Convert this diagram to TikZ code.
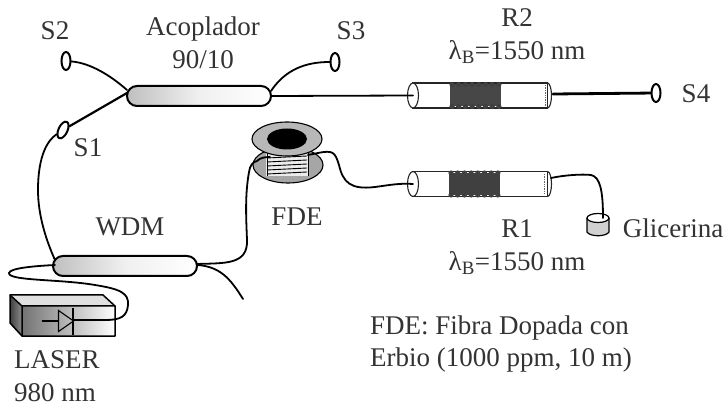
\documentclass[tikz,border=0pt]{standalone}
\usepackage{fontspec}
\setmainfont{Liberation Serif}
\usetikzlibrary{shapes.geometric,shapes.misc}
\tikzset{
 lbl/.style={inner sep=0pt,text=black!80,font=\fontsize{27}{32.5}\selectfont,align=center},
 fibre/.style={draw=black,line width=1.8pt,line cap=round},
 fibrethick/.style={draw=black,line width=2.8pt,line cap=round},
 ferrule/.style={ellipse,draw=black,line width=2pt,fill=white,minimum width=9pt,minimum height=18pt,inner sep=0pt},
 coupler/.style={rounded rectangle,draw=black,line width=2pt,left color=black!25,right color=white,middle color=black!6,minimum width=144pt,minimum height=20pt,inner sep=0pt},
 tube/.style={rectangle,draw=black!85,line width=1.1pt,fill=white,minimum width=135pt,minimum height=25pt,inner sep=0pt},
 grating/.style={rectangle,fill=black!72,minimum height=22pt,minimum width=51pt,inner sep=0pt},
 bump/.style={fill=black!75},
 tubeend/.style={ellipse,draw=black!85,line width=1.1pt,fill=white,minimum width=11pt,minimum height=25pt,inner sep=0pt},
 flange/.style={ellipse,draw=black,line width=1.1pt,fill=black!35,inner sep=0pt},
 boxedge/.style={draw=black,line width=1.5pt,line join=round},
}
\begin{document}
\begin{tikzpicture}[x=1pt,y=-1pt]
\useasboundingbox (0,0) rectangle (726,406);
\fill[white] (0,0) rectangle (726,406);

% couplers
\node[coupler] (acop) at (199,96) {};
\node[coupler] (wdm) at (125,266) {};

% reflectors
\node[tube] (r2) at (480,95.5) {};
\node[tubeend] (r2l) at (413,95.5) {};
\node[grating] (g2) at (475.5,95.5) {};
\foreach \i in {0,...,7} {
  \fill[bump] (452+\i*6.7,84.5) circle (2.6pt);
  \fill[bump] (452+\i*6.7,106.5) circle (2.6pt);
}
\draw[black!60,densely dotted,line width=.7pt] (545,85) -- (545,106);
\node[tube] (r1) at (480,184) {};
\node[tubeend] (r1l) at (413,184) {};
\node[grating,fill=black!75] (g1) at (474.5,184) {};
\foreach \i in {0,...,7} {
  \fill[bump] (451+\i*6.7,173) circle (2.6pt);
  \fill[bump] (451+\i*6.7,195) circle (2.6pt);
}
\draw[black!60,densely dotted,line width=.7pt] (544,174) -- (544,194);
\draw[black!85,line width=1.1pt] (547.5,83) arc (90:-90:4pt and 12.5pt);
\draw[black!85,line width=1.1pt] (547.5,171.5) arc (90:-90:4pt and 12.5pt);

% ferrules
\node[ferrule] (s2) at (66,61) {};
\node[ferrule] (s3) at (335,62) {};
\node[ferrule,rotate=-25] (s1) at (63,130) {};
\node[ferrule] (s4) at (656,93) {};

% spool
\node[flange,minimum width=70pt,minimum height=36pt] (fl2) at (288,165) {};
\fill[black!8] (266,150) rectangle (308,176);
\draw[black,line width=.9pt] (267,150) -- (267,176) (308,150) -- (308,176);
\draw[black,line width=.9pt] (267,158) -- (307,156) (267,162) -- (307,160) (267,166) -- (307,164) (267,170) -- (307,168) (267,174) -- (307,172);
\node[flange,minimum width=70pt,minimum height=34pt,fill=black!28] (fl1) at (287,139) {};
\node[ellipse,fill=black,minimum width=40pt,minimum height=21pt,inner sep=0pt] (hole) at (287,139) {};
\coordinate (spoolL) at (257,161);
\coordinate (spoolM) at (270,157);
\coordinate (spoolR) at (308,155);

% laser box
\fill[black!12] (10,295) -- (103,295) -- (115,306) -- (22,306) -- cycle;
\path[left color=black!75,right color=black!45] (10,295) -- (22,306) -- (22,336) -- (10,323) -- cycle;
\path[left color=black!55,right color=white] (22,306) rectangle (115,336);
\draw[boxedge] (10,295) -- (103,295) -- (115,306) -- (115,336) -- (22,336) -- (10,323) -- cycle;
\draw[boxedge] (10,295) -- (22,306) -- (115,306) (22,306) -- (22,336);
\node[isosceles triangle,isosceles triangle apex angle=70,draw=black,line width=1.1pt,minimum height=15pt,inner sep=0pt,fill=none] (diode) at (64,321) {};
\draw[black,line width=1.3pt] (73,308) -- (73,335);
\coordinate (las) at (73,320);
\draw[black,line width=1.1pt] (42,321) -- (diode.west);

% fibres
\coordinate (acL1) at (127,90);
\coordinate (acL2) at (127,93);
\coordinate (acR1) at (271,91);
\coordinate (acR2) at (271,96);
\coordinate (wL1) at (55,260);
\coordinate (wL2) at (55,265);
\coordinate (wR1) at (197,264);
\coordinate (wR2) at (198,265);
\coordinate (wEnd) at (243,299);
\draw[fibre] (s2) .. controls (90,63) and (110,75) .. (acL1);
\draw[fibre] (s3) .. controls (305,62) and (285,70) .. (acR1);
\draw[fibrethick,line width=2.2pt] (s1) -- (acL2);
\draw[fibre] (s1) .. controls (48,140) and (38,155) .. (38,190) .. controls (38,215) and (46,240) .. (wL1);
\draw[fibre] (acR2) -- (r2l.center);
\draw[fibrethick] (553,94) -- (s4);
\draw[fibre] (wR1) .. controls (225,263) and (248,265) .. (247,240) .. controls (246,215) and (245,195) .. (249,172) .. controls (250,165) and (253,162) .. (spoolL) .. controls (260,158) and (264,157) .. (spoolM);
\draw[fibre] (wR2) .. controls (220,267) and (230,278) .. (wEnd);
\draw[fibre] (spoolR) -- (318,153) .. controls (333,150) and (335,152) .. (339,165) .. controls (343,182) and (350,190) .. (375,187) .. controls (390,185) and (400,183) .. (r1l.center);
\draw[fibre] (wL2) .. controls (35,266) and (10,268) .. (9,273) .. controls (8,281) and (60,279) .. (95,285) .. controls (120,289) and (129,293) .. (128,305) .. controls (127,317) and (120,320) .. (105,320) -- (las);

% cup
\coordinate (cupIn) at (603,218);
\path[fill=black!18,draw=black,line width=1.2pt] (587,218) -- (587,232) .. controls (590,237) and (606,237) .. (609,232) -- (609,218);
\node[ellipse,draw=black,line width=1.2pt,fill=white,minimum width=22pt,minimum height=9pt,inner sep=0pt] (cup) at (598,218) {};
\draw[fibre] (551,178) .. controls (565,175) and (582,174) .. (591,175) .. controls (600,177) and (603,190) .. (cupIn);

% labels
\node[lbl] (tS2) at (55,31) {S2};
\node[lbl] (tAc) at (203,43) {Acoplador\\90/10};
\node[lbl] (tS3) at (351,31) {S3};
\node[lbl] (tS1) at (88,148) {S1};
\node[lbl] (tR2) at (517,36) {R2\\λ\textsubscript{B}=1550 nm};
\node[lbl] (tS4) at (696,94) {S4};
\node[lbl] (tFDE) at (297,217) {FDE};
\node[lbl] (tWDM) at (130,227) {WDM};
\node[lbl] (tR1) at (517,247) {R1\\λ\textsubscript{B}=1550 nm};
\node[lbl] (tGl) at (673,228) {Glicerina};
\node[lbl,align=left,anchor=west] (tNote) at (370,344) {FDE: Fibra Dopada con\\Erbio (1000 ppm, 10 m)};
\node[lbl,align=left,anchor=west] (tLas) at (14,376) {LASER\\980 nm};
\end{tikzpicture}
\end{document}
